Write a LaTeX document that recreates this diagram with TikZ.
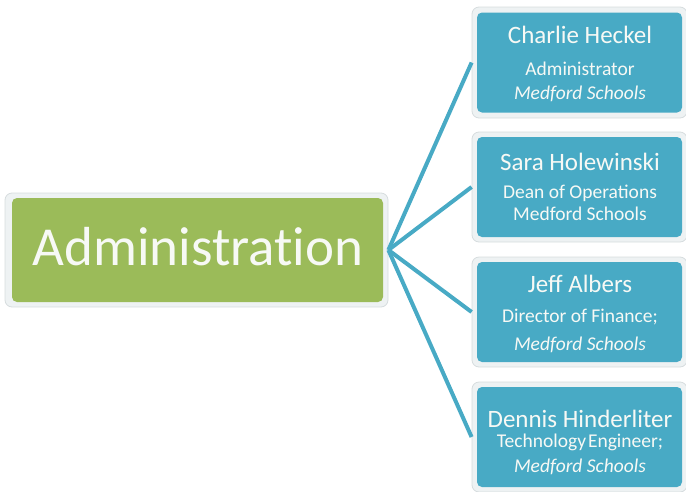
\documentclass[tikz,border=0pt]{standalone}
\usepackage{fontspec}
\setmainfont{Carlito}
\definecolor{olivegreen}{RGB}{155,187,89}
\definecolor{aqua}{RGB}{72,170,197}
\definecolor{framegray}{RGB}{238,242,243}
\definecolor{frameline}{RGB}{214,220,222}
\definecolor{txtwhite}{RGB}{247,249,245}

\begin{document}
\begin{tikzpicture}[x=1pt,y=-1pt,
    boxframe/.style={draw=frameline, fill=framegray, line width=0.8pt, rounded corners=7pt, inner sep=0pt},
    memberbox/.style={fill=aqua, rounded corners=5pt, inner sep=0pt, minimum width=205pt, minimum height=100pt},
    link/.style={draw=aqua, line width=4pt},
    membername/.style={anchor=base, text=txtwhite, font=\fontsize{25}{25}\selectfont},
    memberrole/.style={anchor=base, text=txtwhite, font=\fontsize{19.5}{19.5}\selectfont}]
        \useasboundingbox (0,0) rectangle (686,491);
        % Administration
        \node[boxframe, minimum width=383pt, minimum height=114pt](gf) at (196.5,250) {};
        \node[fill=olivegreen, rounded corners=5pt, minimum width=371pt, minimum height=104pt, inner sep=0pt](admin) at (197.5,250) {};
        \node[anchor=base, text=txtwhite, font=\fontsize{55}{55}\selectfont](admintxt) at (198,265) {Administrat\kern0pt ion};
        % frames of the members
        \node[boxframe, minimum width=215pt, minimum height=111pt](f1) at (579.5,62.5) {};
        \node[boxframe, minimum width=215pt, minimum height=110pt](f2) at (579.5,187) {};
        \node[boxframe, minimum width=215pt, minimum height=110pt](f3) at (579.5,312) {};
        \node[boxframe, minimum width=215pt, minimum height=110pt](f4) at (579.5,437) {};
        % links
        \draw[link] (gf.east) -- (f1.west);
        \draw[link] (gf.east) -- (f2.west);
        \draw[link] (gf.east) -- (f3.west);
        \draw[link] (gf.east) -- (f4.west);
        % members
        \node[memberbox](b1) at (579.5,62.5) {};
        \node[memberbox](b2) at (579.5,187) {};
        \node[memberbox](b3) at (579.5,312) {};
        \node[memberbox](b4) at (579.5,437) {};
        \node[membername](n1) at (580,43)  {Charlie Heckel};
        \node[memberrole](r1) at (580,75)  {Administrator};
        \node[memberrole](s1) at (580,99)  {\itshape Medford Schools};
        \node[membername](n2) at (580,170) {Sara Holewinski};
        \node[memberrole](r2) at (580,198) {Dean of Operations};
        \node[memberrole](s2) at (580,220) {Medford Schools};
        \node[membername](n3) at (580,292) {Jeff Albers};
        \node[memberrole](r3) at (580,322) {Director of Finance;};
        \node[memberrole](s3) at (580,350) {\itshape Medford Schools};
        \node[membername](n4) at (580,427) {Dennis Hinderliter};
        \node[memberrole](r4) at (580,447) {Technology\hspace{0.1em}Engineer;};
        \node[memberrole](s4) at (580,472) {\itshape Medford Schools};

    \end{tikzpicture}
\end{document}
